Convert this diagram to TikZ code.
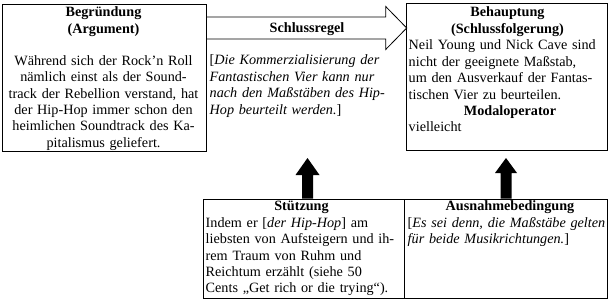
\documentclass[tikz,border=0pt]{standalone}
\usepackage{fontspec}
\setmainfont{Liberation Serif}
\usetikzlibrary{calc}
\begin{document}
\begin{tikzpicture}[x=1pt,y=-1pt,
  box/.style={draw=black, line width=1pt, inner sep=0pt, anchor=north west},
  txt/.style={inner sep=0pt, font=\fontsize{14.2}{16.4}\selectfont, anchor=base west},
  ttl/.style={txt, font=\fontsize{14.2}{16.4}\selectfont\bfseries, anchor=base, text width=204pt, align=center},
  blockarrow/.style={draw=black, line width=0.8pt, fill=white},
  solidarrow/.style={fill=black}]
\useasboundingbox (0,0) rectangle (612,302);
% boxes
\node[box, minimum width=204pt, minimum height=146.5pt] (arg) at (1.5,4) {};
\node[box, minimum width=200.5pt, minimum height=146.5pt] (beh) at (406,3) {};
\node[box, minimum width=201pt, minimum height=99.5pt] (stz) at (203.3,198.5) {};
\node[box, minimum width=202.5pt, minimum height=99.5pt] (aus) at (404.3,198.5) {};
% Schlussregel arrow
\coordinate (ax) at (0,28);
\coordinate (tl) at (arg.east |- ax);
\coordinate (tp) at ($(beh.west |- ax)+(0.7,0)$);
\draw[blockarrow] ($(tl)+(0,-11)$) -- ($(tp)+(-21,-11)$) -- ($(tp)+(-21,-21.5)$) -- (tp)
  -- ($(tp)+(-21,21.5)$) -- ($(tp)+(-21,11)$) -- ($(tl)+(0,11)$) -- cycle;
\node[txt, anchor=base] (regl) at (307,32.3) {\textbf{Schlussregel}};
% up arrows
\coordinate (u1) at (307.5,158);
\fill[solidarrow] ($(stz.north -| u1)+(-5.5,0)$) -- ($(u1)+(-5.5,17)$) -- ($(u1)+(-12,17)$) -- (u1)
  -- ($(u1)+(12,17)$) -- ($(u1)+(5.5,17)$) -- ($(stz.north -| u1)+(5.5,0)$) -- cycle;
\coordinate (u2) at (506,158);
\fill[solidarrow] ($(aus.north -| u2)+(-5.5,0)$) -- ($(u2)+(-5.5,15)$) -- ($(u2)+(-11,15)$) -- (u2)
  -- ($(u2)+(11,15)$) -- ($(u2)+(5.5,15)$) -- ($(aus.north -| u2)+(5.5,0)$) -- cycle;
% left box
\node[txt, text width=204pt, align=center, anchor=base] (argt) at (103.5,17)
  {\textbf{Begründung}\\ \textbf{(Argument)}\\[15.6pt]
   Während sich der Rock'n Roll\\ nämlich einst als der Sound-\\
   track der Rebellion verstand, hat\\ der Hip-Hop immer schon den\\
   heimlichen Soundtrack des Ka-\\ pitalismus geliefert.};
% middle
\node[txt, text width=196pt, align=left] (regt) at (209.5,65)
  {[\textit{Die Kommerzialisierung der}\\ \textit{Fantastischen Vier kann nur}\\
   \textit{nach den Maßstäben des Hip-}\\ \textit{Hop beurteilt werden.}]};
% right box
\node[ttl] (behtitle) at (507.5,16.7) {Behauptung\\ (Schlussfolgerung)};
\node[txt, text width=198pt, align=left] (beht) at (408.5,50)
  {Neil Young und Nick Cave sind\\ nicht der geeignete Maßstab,\\
   um den Ausverkauf der Fantas-\\ tischen Vier zu beurteilen.};
\node[ttl] (modtitle) at (510,115) {Modaloperator};
\node[txt] (modt) at (408.5,131.7) {vielleicht};
% Stuetzung
\node[ttl] (stztitle) at (301.5,210) {Stützung};
\node[txt, text width=196pt, align=left] (stzt) at (205.5,227.3)
  {Indem er [\textit{der Hip-Hop}] am\\
   liebsten von Aufsteigern und ih-\\ rem Traum von Ruhm und\\
   Reichtum erzählt (siehe 50\\ Cents „Get rich or die trying“).};
% Ausnahmebedingung
\node[ttl] (austitle) at (510,210) {Ausnahmebedingung};
\node[txt, text width=200pt, align=left] (aust) at (407.5,227)
  {[\textit{Es sei denn, die Maßstäbe gelten}\\
   \textit{für beide Musikrichtungen.}]};
\end{tikzpicture}
\end{document}
